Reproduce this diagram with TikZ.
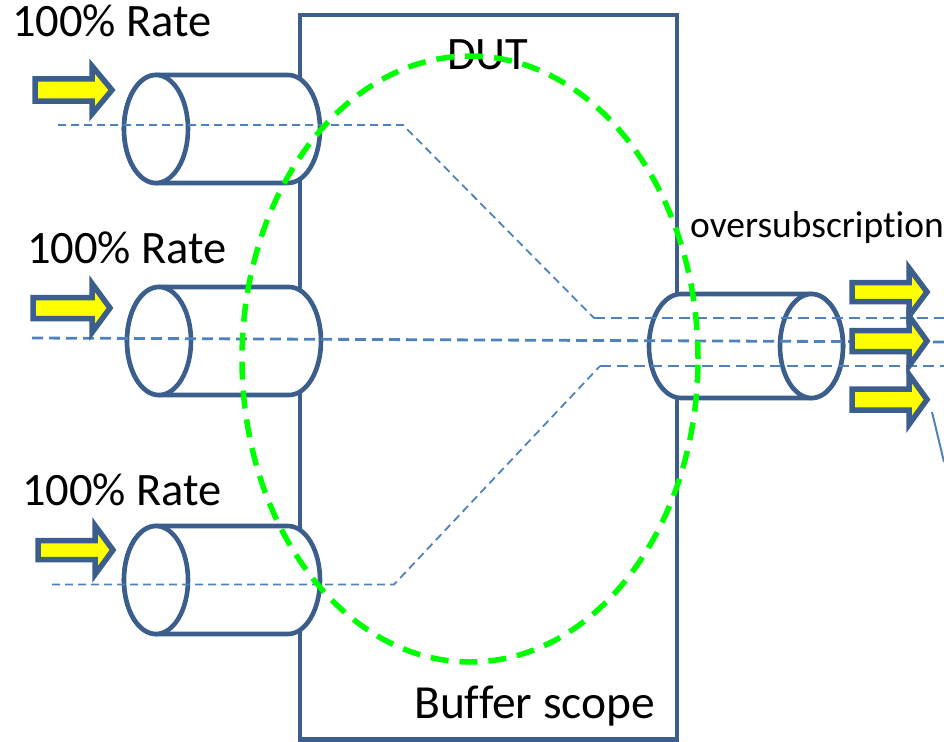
\documentclass[tikz,border=0pt]{standalone}
\usepackage{fontspec}
\setmainfont{Carlito}[Ligatures=CommonOff]
\definecolor{boxblue}{RGB}{59,94,140}
\definecolor{lineblue}{RGB}{79,129,189}
\definecolor{ellgreen}{RGB}{0,255,0}
\definecolor{arrowyellow}{RGB}{255,255,0}
\tikzset{
  frame/.style={draw=boxblue, line width=4.6bp},
  cyl/.style={draw=boxblue, fill=white, line width=4.6bp},
  thinpath/.style={draw=lineblue, line width=1.8bp, dash pattern=on 8bp off 5bp},
  thickpath/.style={draw=lineblue, line width=2.8bp, dash pattern=on 11bp off 6bp},
  scopeell/.style={draw=ellgreen, line width=5.5bp, dash pattern=on 18bp off 11bp},
  fatarrow/.style={draw=boxblue, fill=arrowyellow, line width=5.5bp, line join=miter},
  biglabel/.style={anchor=base west, inner sep=0pt, font=\fontsize{46.5bp}{56bp}\selectfont},
  buflabel/.style={anchor=base west, inner sep=0pt, font=\fontsize{47.5bp}{56bp}\selectfont},
  midlabel/.style={anchor=base west, inner sep=0pt, font=\fontsize{37.5bp}{44bp}\selectfont},
}
% input cylinder: #1 left ellipse center x, #2 cap center x, #3 center y
\newcommand{\incyl}[3]{%
  \path[cyl] (#1,#3+54) -- (#2,#3+54) arc[start angle=90,end angle=-90,x radius=32bp,y radius=54bp]
    -- (#1,#3-54) arc[start angle=270,end angle=90,x radius=32bp,y radius=54bp] -- cycle;
  \draw[cyl] (#1,#3) ellipse[x radius=32bp,y radius=54bp];}
% yellow arrow: x0, xh, xt, yc, bh, hh, name of tip
\newcommand{\yarrow}[7]{%
  \node[coordinate] (#7) at (#3,#4) {};
  \path[fatarrow] (#1,#4+#5) -- (#2,#4+#5) -- (#2,#4+#6) -- (#7) -- (#2,#4-#6) -- (#2,#4-#5) -- (#1,#4-#5) -- cycle;}
\begin{document}
\begin{tikzpicture}[x=1bp,y=1bp]
\useasboundingbox (0,0) rectangle (944,-742);
% DUT box
\node[coordinate] (boxnw) at (300,-15) {};
\node[coordinate] (boxse) at (677,-739.5) {};
\draw[frame] (boxnw) rectangle (boxse);
% input cylinders
\incyl{156}{288}{-129}
\incyl{159}{289}{-341}
\incyl{156}{288}{-580}
% output cylinder
\path[cyl] (681,-294) -- (811.5,-294) arc[start angle=90,end angle=-90,x radius=31.5bp,y radius=52bp]
  -- (681,-398) arc[start angle=270,end angle=90,x radius=32bp,y radius=52bp] -- cycle;
\draw[cyl] (811.5,-346) ellipse[x radius=31.5bp,y radius=52bp];
% traffic paths
\coordinate (t0) at (58,-125);
\coordinate (t1) at (403,-125);
\coordinate (t2) at (594,-318);
\coordinate (t3) at (944,-318);
\coordinate (m0) at (32,-338);
\coordinate (m1) at (944,-342);
\coordinate (b0) at (52,-584.5);
\coordinate (b1) at (394,-584.5);
\coordinate (b2) at (600,-366);
\coordinate (b3) at (944,-366);
\draw[thinpath] (t0) -- (t1) -- (t2);
\draw[thickpath] (t2) -- (t3);
\draw[thickpath] (m0) -- (m1);
\draw[thinpath] (b0) -- (b1) -- (b2);
\draw[thickpath] (b2) -- (b3);
% texts inside the box
\node[biglabel] (dut) at (447,-70) {DUT};
\node[buflabel] (buf) at (414,-718) {Buffer scope};
% buffer scope ellipse
\draw[scopeell] (470,-359) ellipse[x radius=228bp,y radius=303bp];
% arrows
\yarrow{35}{92}{112}{-90}{11}{24}{a1}
\yarrow{33}{92}{110}{-308}{10.5}{24.5}{a2}
\yarrow{38}{95}{113}{-550}{9.5}{24.5}{a3}
\yarrow{852}{909}{927}{-292}{9.5}{24}{r1}
\yarrow{852}{909}{927}{-341}{10.5}{25}{r2}
\yarrow{852}{909}{927}{-399.5}{10.5}{25}{r3}
% cut-off line at the right edge
\coordinate (e0) at (932,-412);
\coordinate (e1) at (944,-462);
\draw[lineblue, line width=2bp] (e0) -- (e1);
% labels
\node[biglabel] (l1) at (12,-37) {100\% Rate};
\node[biglabel] (l2) at (27,-263) {100\% Rate};
\node[biglabel] (l3) at (22,-505) {100\% Rate};
\node[midlabel] (os) at (690,-237) {oversubscription};
\end{tikzpicture}
\end{document}
